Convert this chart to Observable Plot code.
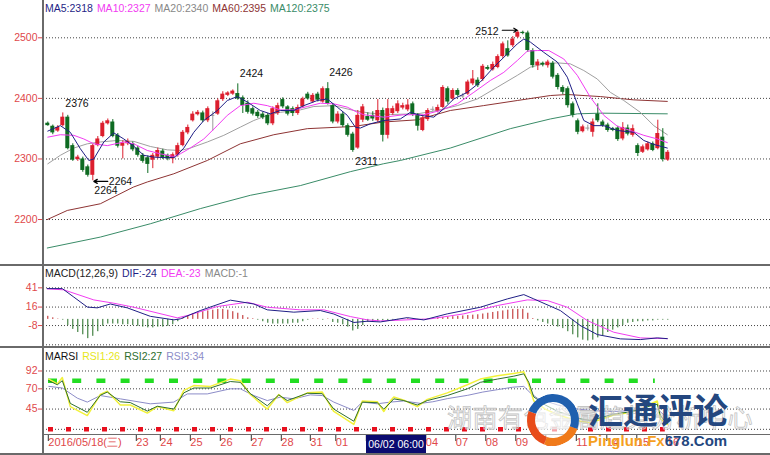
<!DOCTYPE html>
<html><head><meta charset="utf-8">
<script src="https://cdn.jsdelivr.net/npm/d3@7"></script>
<script src="https://cdn.jsdelivr.net/npm/@observablehq/plot@0.6"></script>
<style>
body{margin:0;background:#fff;}
#wrap{position:relative;width:770px;height:455px;overflow:hidden;font-family:"Liberation Sans",Arial,sans-serif;background:#fff;}
.panel{position:absolute;left:0;}
.panel svg{background:transparent !important;}
</style></head><body><div id="wrap">
<div class="panel" id="p1" style="top:0"></div>
<div class="panel" id="p2" style="top:265px"></div>
<div class="panel" id="p3" style="top:347px"></div>
</div>
<script>
// ---------------- DATA ----------------
const opens = [2359,2354,2346,2355,2369,2322,2299,2300,2287,2273,2322,2337,2358,2361,2339,2321,2325,2325,2318,2306,
2302,2298,2303,2313,2306,2300,2306,2322,2343,2363,2373,2376,2363,2372,2374,2398,2405,2407,2408,2401,
2392,2383,2377,2374,2372,2358,2375,2398,2386,2383,2375,2386,2407,2394,2407,2394,2416,2388,2361,2374,
2355,2341,2318,2364,2370,2372,2363,2380,2339,2375,2378,2384,2381,2391,2372,2347,2365,2382,2379,2385,
2416,2399,2413,2404,2407,2424,2430,2431,2451,2447,2451,2469,2482,2487,2501,2509,2508,2479,2454,2458,
2454,2458,2438,2418,2416,2391,2363,2345,2351,2344,2374,2361,2356,2350,2351,2333,2351,2339,2322,2311,
2315,2325,2317,2336,2298];
const highs = [2361,2356,2355,2376,2372,2325,2306,2303,2290,2324,2337,2362,2366,2365,2342,2330,2333,2328,2321,2309,
2305,2309,2318,2316,2308,2310,2326,2347,2356,2378,2380,2379,2386,2378,2399,2411,2411,2414,2424,2404,
2396,2386,2380,2377,2375,2386,2392,2401,2388,2386,2389,2402,2410,2408,2410,2419,2426,2391,2378,2377,
2358,2344,2380,2390,2376,2378,2398,2384,2398,2387,2396,2392,2398,2394,2375,2372,2383,2386,2389,2421,
2419,2416,2416,2408,2430,2446,2434,2456,2454,2460,2472,2493,2495,2502,2512,2511,2511,2482,2464,2460,
2463,2461,2441,2421,2419,2394,2366,2356,2356,2366,2391,2364,2359,2352,2354,2360,2356,2356,2325,2323,
2328,2328,2364,2350,2314];
const lows = [2354,2340,2344,2353,2315,2296,2296,2278,2270,2264,2320,2335,2356,2335,2318,2300,2322,2312,2303,2293,
2276,2284,2300,2299,2297,2292,2303,2320,2340,2361,2371,2360,2360,2346,2372,2395,2403,2405,2397,2375,
2374,2371,2367,2365,2355,2355,2372,2383,2371,2370,2372,2384,2397,2392,2394,2392,2389,2358,2358,2352,
2336,2311,2316,2360,2362,2362,2360,2328,2333,2372,2375,2381,2378,2370,2346,2345,2362,2378,2376,2383,
2390,2396,2402,2400,2405,2421,2418,2428,2446,2445,2449,2466,2468,2484,2499,2505,2476,2450,2446,2452,
2450,2432,2414,2406,2384,2368,2340,2343,2346,2336,2360,2352,2344,2345,2329,2330,2338,2336,2304,2309,
2313,2312,2315,2295,2296];
const closes = [2355,2343,2352,2369,2317,2298,2303,2281,2273,2322,2333,2359,2363,2337,2321,2326,2329,2315,2306,2296,
2291,2306,2314,2302,2300,2307,2322,2344,2352,2374,2377,2363,2383,2372,2396,2407,2409,2412,2399,2388,
2377,2374,2370,2368,2358,2383,2388,2386,2374,2375,2385,2399,2399,2405,2397,2416,2391,2361,2374,2355,
2339,2314,2372,2386,2364,2366,2380,2339,2383,2383,2391,2388,2389,2373,2354,2368,2380,2382,2385,2418,
2394,2413,2405,2404,2427,2432,2421,2453,2448,2456,2469,2490,2470,2498,2509,2507,2479,2454,2460,2455,
2460,2435,2418,2410,2388,2372,2344,2353,2351,2361,2363,2355,2347,2347,2332,2352,2341,2350,2309,2320,
2325,2314,2342,2299,2311];

// moving-average lines: [candle index, price]
const ma5 = [[1,2346],[3.5,2355],[5.5,2344],[7.5,2317],[9.2,2297.5],[10.2,2300],[12.2,2328],[14.2,2343],[16.2,2333],[18.2,2321],[20.2,2306],[22.2,2303],[24.9,2302],[26.5,2303],[28.2,2318],[30.2,2344],[32.2,2363.5],[34.9,2380],[36.9,2396.5],[38.9,2403],[40.9,2394],[43.5,2380],[45.5,2374.5],[47.5,2380],[50.2,2380],[52.2,2388],[54.9,2396.5],[56.9,2399],[58.9,2385.5],[60.9,2372],[62.5,2352.5],[63.5,2351],[65.5,2358],[68.2,2363.5],[71.5,2366],[73.5,2377],[75.5,2372],[78.2,2369],[80.2,2383],[82.2,2399],[84.9,2410],[87.5,2427],[90.2,2451.5],[92.9,2473.5],[94.9,2490],[96.2,2498],[97.5,2493],[100.2,2476],[102.9,2460],[104.9,2435],[106.9,2391],[108.2,2363.5],[110.2,2355],[112.2,2355],[114.9,2347],[118.2,2344],[120.2,2330.5],[122.2,2324],[124.9,2318]];
const ma10 = [[1,2336],[3.5,2340],[6.2,2339],[8.2,2333],[10.2,2325],[12.9,2322],[16.2,2328],[18.2,2325],[20.9,2314],[23.5,2308.5],[26.2,2304],[27.5,2308.5],[29.5,2318],[32.2,2333],[34.9,2355],[36.9,2372],[39.5,2388],[42.2,2392],[44.9,2388],[47.5,2381],[50.2,2381],[52.9,2386.6],[55.5,2392],[58.2,2391],[60.9,2385.5],[62.9,2377],[64.2,2373],[68.2,2369],[72.2,2373],[76.2,2373],[79.5,2380],[82.9,2391],[86.2,2410],[89.5,2429.5],[92.2,2443],[94.9,2462.5],[96.9,2478],[98.9,2479],[101.2,2479],[104.2,2465],[106.9,2438],[109.5,2402],[112.2,2372],[114.9,2354],[117.5,2347],[120.2,2339],[122.9,2333],[124.9,2327]];
const ma20 = [[1,2292],[3.5,2306],[6.2,2318],[8.9,2325],[11.5,2328],[14.9,2330.5],[18.2,2329],[21.5,2320.6],[24.9,2315],[27.5,2314],[29.5,2318],[32.9,2328],[36.2,2339],[39.5,2352.5],[42.2,2363.5],[44.9,2372],[47.5,2377],[51.5,2381],[54.2,2386.6],[58.2,2388],[62.2,2380],[65.5,2375.6],[69.5,2373.4],[74.9,2374.5],[78.9,2380],[82.9,2388],[86.9,2399],[90.9,2418.5],[94.9,2438],[97.5,2451.5],[100.2,2457],[102.9,2458.6],[105.5,2457],[108.2,2446],[110.9,2432],[113.5,2410],[116.2,2396.5],[119.5,2377],[122.2,2355],[124.9,2340]];
const ma60 = [[0.9,2200],[4.9,2215],[11.5,2226],[18.1,2253.5],[20.9,2262],[26.2,2275.5],[32.9,2297.5],[39.5,2325],[46.2,2340],[52.9,2350],[62.1,2353.6],[68.1,2361],[74.9,2364.6],[81.5,2380],[88.1,2388],[94.9,2396.5],[101.5,2404.7],[104.9,2406.4],[111.5,2403],[118.1,2397.6],[124.9,2395]];
const ma120 = [[0.9,2153],[11.5,2171],[21.5,2193],[31.5,2218],[41.5,2240],[51.5,2256],[61.5,2279],[68.1,2292],[71.5,2297.5],[81.5,2318],[93.5,2350],[101.5,2366],[106.9,2374.5],[111.5,2375.6],[124.9,2374.5]];

const priceTicks = [2200,2300,2400,2500];
const annoIdx = [4.5,39.4,57.3,62.5,86.5,13.2,10.3];
const annoPrice = [2392,2441,2442,2296,2510,2263,2247.5];
const annoText = ["2376","2424","2426","2311","2512","2264","2264"];
const arrowFrom = [[91.9,2512.5],[13.0,2263]];
const arrowTo = [[94.9,2512.5],[10.2,2263]];

// MACD
const macdBars = [4,2,0.5,-1,-8,-13,-17,-20,-25,-22,-16,-9,-6,-6,-6,-7,-7,-8,-9,-10,
-11,-11,-10,-10,-9,-7,-3,1,5,7,9,10,11,12,13,13,12,10,8,5,
2,0.8,-1,-3,-5,-6,-6,-6,-6,-5,-5,-3,-1,0.5,0.5,-1,0.5,-4,-5,-7,
-10,-15,-13,-8,-4,-4,-3,-2,-2,-1,-1,0.5,1,0.5,-0.5,-1,0.5,1,2,2.5,
3,3.5,4,4.5,5,5.5,6,7,8,9,10,11,12,13,13,13,8,1,-2,-4,
-6,-8,-10,-12,-16,-20,-24,-27,-28,-27,-24,-21,-17,-14,-11,-8,-5,-4,-3,-3,
-2,-2,-1,-1,-1];
const dif = [[0.9,40],[3.9,40],[6.2,29],[8.9,16],[10.9,15],[13.5,20],[16.9,15],[21.5,4],[26.2,-0.6],[27.5,0.7],[31.5,11.5],[37.5,25],[42.2,20],[44.9,12.4],[50.2,9.4],[55.5,11.5],[58.2,7],[62.2,-4],[64.9,-2.4],[67.5,-3.3],[72.9,2.3],[76.2,-0.7],[80.9,7.2],[87.5,15.8],[92.9,26.6],[96.2,32.2],[98.2,26.6],[103.5,11.5],[107.5,-8],[110.9,-19.7],[115.5,-25.3],[119.5,-26.2],[122.9,-24],[124.9,-25]];
const dea = [[0.9,39.7],[4.2,38.4],[10.2,25.3],[14.2,21],[18.2,15.8],[26.9,2],[28.9,5],[34.9,16.7],[40.9,22.3],[44.9,15.8],[51.5,12.4],[56.2,12.4],[61.5,3.7],[64.9,-0.6],[67.5,-2],[69.5,-1.5],[77.5,0.7],[84.2,7.2],[90.9,18],[96.9,25.3],[100.9,24.5],[104.9,15.8],[108.9,-1.5],[114.2,-16.7],[119.5,-24],[124.9,-25]];
const macdTicks = [41,16,-8];
const macdGrid = [41,16,-8,-33];

// RSI
const rsi1 = [[1.2,82],[2.9,76],[3.9,84],[5.5,48],[8.9,37],[11.5,63],[12.9,67],[15.5,50],[17.5,50],[20.9,40],[22.9,48],[26.2,43],[28.2,68],[30.2,74],[33.5,73],[37.5,82],[39.5,80],[41.5,63],[44.9,45],[47.2,63],[48.9,53],[52.9,65],[55.9,66],[58.2,42],[62.2,26],[63.9,55],[66.9,54],[68.2,42],[69.5,55],[70.2,60],[72.2,56],[74.9,48],[76.9,57],[80.9,65],[84.9,75],[87.5,82],[90.9,86],[94.2,89],[96.2,91],[97.2,75],[98.2,55],[100.5,45],[103,38],[105.5,33],[107.5,30],[109.5,28],[112,33],[114.2,38],[116.9,40],[119.5,44],[121,50],[122.9,55],[123.5,33],[124.9,26]];
const rsi2 = [[1.2,80],[2.9,75],[3.9,80],[5.5,52],[8.9,41],[11.5,62],[12.9,66],[15.5,54],[17.5,53],[20.9,42.5],[22.9,48.5],[26.2,45],[28.2,65],[30.2,71],[33.5,71],[37.5,79],[39.5,78],[41.5,64],[44.9,49],[47.2,62.5],[48.9,55.5],[52.9,64.5],[55.9,64],[58.2,45],[62.2,30],[63.9,53.6],[66.9,52.8],[68.2,45],[69.5,52.8],[70.2,57.6],[72.2,55.5],[74.9,50],[76.9,55.5],[80.9,61.7],[84.9,70],[87.5,78],[90.9,82],[94.2,85.6],[96.2,88.5],[97.2,78],[98.2,60],[100.5,50],[103,42],[105.5,37],[107.5,33],[109.5,31],[112,35],[114.2,39],[116.9,41],[119.5,44],[121,48],[122.9,51],[123.5,37],[124.9,27]];
const rsi3 = [[1.2,73],[3.9,71],[6.9,58.5],[8.9,53.6],[11.5,61.7],[15.5,57.6],[21.5,51.5],[26.2,53.6],[28.9,63.7],[32.9,63.7],[37.5,70],[39.5,70],[42.2,61.7],[44.9,55.5],[47.5,59.7],[50.2,57.6],[53.5,62.5],[55.9,61.7],[58.2,53.6],[62.2,43.3],[63.9,53.6],[66.9,51.5],[69.5,53.6],[72.2,55],[75.5,52],[78,54],[81,58],[85,62],[88,66],[91,69],[94,72],[96.2,73],[97.5,65],[99,58],[103,50],[107,45],[110,43],[114,42],[117.5,43],[120,45],[122.9,45],[124.9,34]];
const rsiTicks = [92,70,45];
const rsiGrid = [92,70,45,20];

const dateTicks = [0.6,18.2,23,29,35,41.2,47.2,53,58.1,64.2,70.2,76.1,82.1,88.1,94.1,100.1,106.2,112.3,118.3,124.3];
const dateLabels = ["2016/05/18(三)","23","24","25","26","27","28","31","01","02","03","04","07","08","09","10","11","14","15","16"];

// ---------------- STYLE ----------------
const RED = "#dc1e2e", GREEN = "#0e6b22", DOJI = "#9a9a9a", LBL = "#e0484a", GRID = "#444";
const FONT = "Liberation Sans, Arial, sans-serif";
const X = {domain:[0.14,145.54], axis:null};
const common = {width:770, marginLeft:43, marginRight:0, marginTop:0, style:{fontFamily:FONT, fontSize:"10.5px", background:"transparent", overflow:"visible"}};

const candles = closes.map((c,k)=>({i:k+1,o:opens[k],h:highs[k],l:lows[k],c}));
const col = d => d.c > d.o ? RED : d.c < d.o ? GREEN : DOJI;
const line = (pts, stroke, w=1) => Plot.line(pts, {x:d=>d[0], y:d=>d[1], stroke, strokeWidth:w});
const annos = annoText.map((t,k)=>({i:annoIdx[k],p:annoPrice[k],t}));
const arrows = arrowFrom.map((a,k)=>({x1:a[0],y1:a[1],x2:arrowTo[k][0],y2:arrowTo[k][1]}));
const yAxis = ticks => Plot.axisY(ticks,{anchor:"left", tickSize:5, tickPadding:1, color:LBL, fontSize:10.5, tickFormat:d=>String(d), label:null});

const p1 = Plot.plot({...common, height:265, marginBottom:0,
  x:X, y:{domain:[2124.1,2561.6], axis:null, label:null},
  marks:[
    Plot.gridY(priceTicks,{stroke:GRID, strokeOpacity:1, strokeDasharray:"1,2"}),
    yAxis(priceTicks),
    line(ma120,"#3a8c68"),
    line(ma60,"#8e3434"),
    line(ma20,"#a0a0a0"),
    Plot.ruleX(candles,{x:"i", y1:"l", y2:"h", stroke:col}),
    Plot.rect(candles.filter(d=>d.o!==d.c),{x1:d=>d.i-0.4, x2:d=>d.i+0.4, y1:d=>Math.min(d.o,d.c), y2:d=>Math.max(d.o,d.c), fill:col}),
    Plot.ruleY(candles.filter(d=>d.o===d.c),{y:"o", x1:d=>d.i-0.4, x2:d=>d.i+0.4, stroke:DOJI}),
    line(ma10,"#f23cf2"),
    line(ma5,"#1f1f86"),
    Plot.text(annos,{x:"i", y:"p", text:"t", textAnchor:"start", fill:"#111", fontSize:10.5}),
    Plot.arrow(arrows,{x1:"x1", y1:"y1", x2:"x2", y2:"y2", stroke:"#000", headLength:5, strokeWidth:1.2})
  ]});
document.getElementById("p1").append(p1);

const bars = macdBars.map((v,k)=>({i:k+1,v}));
const p2 = Plot.plot({...common, height:82, marginBottom:0,
  x:X, y:{domain:[-36.5,70], axis:null, label:null},
  marks:[
    Plot.gridY(macdGrid,{stroke:GRID, strokeOpacity:1, strokeDasharray:"1,2"}),
    yAxis(macdTicks),
    Plot.ruleX(bars,{x:"i", y1:0, y2:"v", stroke:d=>d.v>0?"#b81c1c":"#1f6a1f", strokeWidth:1}),
    line(dea,"#f23cf2"),
    line(dif,"#1f1f86")
  ]});
document.getElementById("p2").append(p2);

const labelOf = new Map(dateTicks.map((t,k)=>[t,dateLabels[k]]));
const p3 = Plot.plot({...common, height:108, marginBottom:21,
  x:X, y:{domain:[13.6,121], axis:null, label:null},
  marks:[
    Plot.gridY(rsiGrid,{stroke:GRID, strokeOpacity:1, strokeDasharray:"1,2"}),
    yAxis(rsiTicks),
    Plot.ruleY([80],{x1:1.14, x2:122.5, stroke:"#22dd22", strokeWidth:4.5, strokeDasharray:"9,15.2"}),
    Plot.ruleY([20],{x1:1.14, x2:124.5, stroke:"#e8101e", strokeWidth:4.5, strokeDasharray:"5,13"}),
    line(rsi3,"#8c8cc8"),
    line(rsi1,"#f2f23a",1.5),
    line(rsi2,"#2e6e2e"),
    Plot.axisX(dateTicks,{anchor:"bottom", tickSize:7, tickPadding:-3, stroke:"#333", fill:LBL, textAnchor:"start", dx:2.5, fontSize:11, tickFormat:d=>labelOf.get(d), label:null})
  ]});
document.getElementById("p3").append(p3);

// ---------------- OVERLAYS (frame, legends, readout, watermark) ----------------
const wrap = document.getElementById("wrap");
function div(css, html=""){const d=document.createElement("div");d.style.cssText="position:absolute;"+css;d.innerHTML=html;wrap.append(d);return d;}
div("left:42px;top:0;width:2px;height:455px;background:#6a6a6a");
div("left:0;top:263.5px;width:770px;height:2px;background:#6a6a6a");
div("left:0;top:345.5px;width:770px;height:2px;background:#6a6a6a");
div("left:43px;top:433.5px;width:727px;height:1.5px;background:#6a6a6a");
div("left:0;top:452.5px;width:770px;height:2px;background:#6a6a6a");

const legend = (top, items) => div(`left:45px;top:${top}px;font-size:10.5px;line-height:13px;white-space:nowrap;font-family:${FONT}`,
  items.map(([t,c])=>`<span style="color:${c};margin-right:4px">${t}</span>`).join(""));
legend(2,[["MA5:2318","#1f1f86"],["MA10:2327","#f23cf2"],["MA20:2340","#888"],["MA60:2395","#8e3434"],["MA120:2375","#3a8c68"]]);
legend(266.5,[["MACD(12,26,9)","#222"],["DIF:-24","#1f1f86"],["DEA:-23","#f23cf2"],["MACD:-1","#888"]]);
legend(350,[["MARSI","#111"],["RSI1:26","#e6e61a"],["RSI2:27","#2e6e2e"],["RSI3:34","#8c8cc8"]]);

div(`left:366px;top:435px;width:60px;height:17.5px;background:#0b0b70;color:#fff;font-size:10.5px;line-height:18px;text-align:center;white-space:nowrap;font-family:${FONT}`,"06/02 06:00");

// watermark
div(`left:447px;top:401px;font-size:25px;letter-spacing:0.5px;color:rgba(255,255,255,0.3);-webkit-text-stroke:0.8px #c4c4c4;font-family:'Noto Sans CJK SC';white-space:nowrap;line-height:30px`,"湖南有色金属趋势分析中心");
div("left:527px;top:394px;width:36px;height:36px;border-radius:50%;border:8px solid;border-color:#1f5fae #1f5fae #f07a1a #e84c1a;transform:rotate(-25deg);background:rgba(255,255,255,0.6)");
div(`left:588px;top:389px;font-size:35px;font-weight:bold;color:#24477f;font-family:'Noto Sans CJK SC';line-height:40px;white-space:nowrap`,"汇通评论");
div(`left:588px;top:432px;font-size:15px;font-weight:bold;font-family:${FONT};line-height:17px;white-space:nowrap`,`<span style="color:#f5a01e">Pinglun.Fx</span><span style="color:#24477f">678.Com</span>`);
</script></body></html>
